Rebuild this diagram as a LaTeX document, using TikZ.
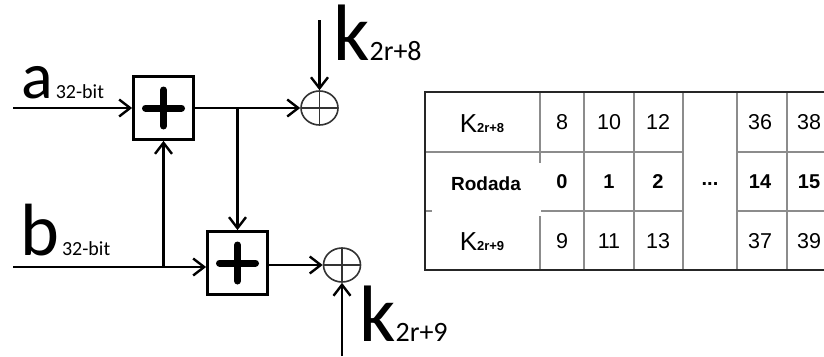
\documentclass[tikz,border=0pt]{standalone}
\usepackage{fontspec}
\setmainfont{Carlito}
\newfontfamily\tabfont{Liberation Sans}
\usetikzlibrary{arrows.meta,shapes.geometric}
\tikzset{
  conn/.style={line width=2.6pt,-{Straight Barb[length=11pt,width=17pt,line width=2.4pt]}},
  adder/.style={draw,line width=2.8pt,minimum width=60pt,minimum height=63pt,inner sep=0pt,
    path picture={\draw[line width=7pt,line cap=round]
      ([xshift=-18pt]path picture bounding box.center) -- ([xshift=18pt]path picture bounding box.center)
      ([yshift=-18pt]path picture bounding box.center) -- ([yshift=18pt]path picture bounding box.center);}},
  xorc/.style={ellipse,draw=black!80,line width=1.6pt,minimum width=37pt,minimum height=34pt,inner sep=0pt,
    path picture={\draw[line width=1.6pt,black!80]
      (path picture bounding box.west) -- (path picture bounding box.east)
      (path picture bounding box.north) -- (path picture bounding box.south);}},
  bigtxt/.style={anchor=base west,inner sep=0pt},
  outerln/.style={line width=2.4pt,black!85},
  innerln/.style={line width=1.2pt,black!45},
  cell/.style={font=\tabfont\fontsize{21.5}{21.5}\selectfont,inner sep=0pt},
  bcell/.style={font=\tabfont\bfseries\fontsize{20}{20}\selectfont,inner sep=0pt},
}
\newcommand{\bits}{{\fontsize{20}{20}\selectfont 32-bit}}
\newcommand{\ksub}[1]{{\fontsize{28}{28}\selectfont #1}}
\newcommand{\tabK}[1]{{\tabfont\fontsize{26}{26}\selectfont K}{\tabfont\bfseries\fontsize{13}{13}\selectfont #1}}
\begin{document}
\begin{tikzpicture}[x=1pt,y=-1pt]
\useasboundingbox (0,0) rectangle (824,356);
% adders and xors
\node[adder] (s1) at (163.5,108) {};
\node[adder] (s2) at (237.5,263) {};
\node[xorc] (x1) at (319.5,108) {};
\node[xorc] (x2) at (342,265) {};
% inputs
\coordinate (ain) at (13,108);
\coordinate (bin) at (13,267);
\coordinate (k1s) at (319.5,20);
\coordinate (k2s) at (342,356);
\draw[conn] (ain) -- (s1.west);
\draw[conn] (bin) -- (s2.west |- bin);
\draw[conn] (s1.east) -- (x1.west);
\draw[conn] (s2.east |- x2.west) -- (x2.west);
\coordinate (br1) at (s1.east -| s2.north);
\draw[conn] (br1) -- (s2.north);
\coordinate (br2) at (s1.south |- bin);
\draw[conn] (br2) -- (s1.south);
\draw[conn] (k1s) -- (x1.north);
\draw[conn] (k2s) -- (x2.south);
% labels
\node[bigtxt,font=\fontsize{66}{66}\selectfont] (la) at (21,98) {a\kern3pt\bits};
\node[bigtxt,font=\fontsize{74}{74}\selectfont] (lb) at (20,255) {b\kern3pt\bits};
\node[bigtxt,font=\fontsize{80}{80}\selectfont] (lk1) at (333,60) {k\ksub{2r+8}};
\node[bigtxt,font=\fontsize{80}{80}\selectfont] (lk2) at (359,341) {k\ksub{2r+9}};
% table grid
\draw[innerln] (425,152) -- (683,152) (737,152) -- (840,152);
\draw[innerln] (425,211) -- (683,211) (737,211) -- (840,211);
\foreach \x in {540,584,634,683,737,787} \draw[innerln] (\x,92) -- (\x,270);
\fill[white] (432,163) rectangle (540.8,215.6);
\draw[outerln] (840,92) -- (425,92) -- (425,270) -- (840,270);
% table text
\node[inner sep=0pt] (h1) at (482,124) {\tabK{2r+8}};
\node[inner sep=0pt,font=\tabfont\bfseries\fontsize{19}{19}\selectfont] (h2) at (486,184) {Rodada};
\node[inner sep=0pt] (h3) at (482,242) {\tabK{2r+9}};
\node[cell] (a1) at (562,122) {8};
\node[cell] (a2) at (609,122) {10};
\node[cell] (a3) at (658,122) {12};
\node[cell] (a4) at (760,122) {36};
\node[cell] (a5) at (809,122) {38};
\node[bcell] (r1) at (562,182) {0};
\node[bcell] (r2) at (609,182) {1};
\node[bcell] (r3) at (658,182) {2};
\node[bcell] (r4) at (710,184) {...};
\node[bcell] (r5) at (760,182) {14};
\node[bcell] (r6) at (809,182) {15};
\node[cell] (c1) at (562,241) {9};
\node[cell] (c2) at (609,241) {11};
\node[cell] (c3) at (658,241) {13};
\node[cell] (c4) at (760,241) {37};
\node[cell] (c5) at (809,241) {39};
\end{tikzpicture}
\end{document}
